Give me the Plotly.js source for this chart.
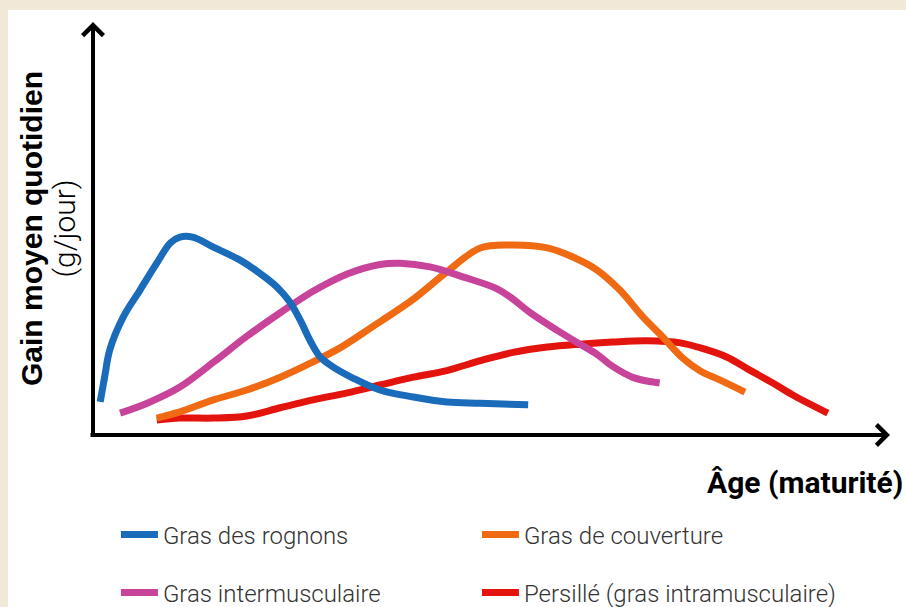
<!DOCTYPE html>
<html>
<head>
<meta charset="utf-8">
<script src="https://cdn.plot.ly/plotly-3.0.1.min.js"></script>
<style>
  html, body { margin: 0; padding: 0; background: #f1e8d7; width: 906px; height: 607px; overflow: hidden; }
  #chart { position: absolute; left: 8px; top: 10px; width: 898px; height: 597px; background: #ffffff; }
</style>
</head>
<body>
<div id="chart"></div>
<script>
// Series names
const seriesNames = ["Gras des rognons", "Gras de couverture", "Gras intermusculaire", "Persillé (gras intramusculaire)"];

// Gras des rognons (blue)
const rognonsX = [0.9, 1.5, 2.1, 3.8, 5.9, 8.0, 9.7, 10.9, 12.5, 15.1, 18.4, 20.9, 23.1, 24.7, 26.0, 27.2, 28.5, 30.1, 32.6, 36.0, 40.2, 44.4, 48.6, 54.6];
const rognonsY = [8.0, 14.5, 20.6, 28.6, 35.1, 41.6, 46.5, 47.9, 47.9, 45.5, 42.4, 39.2, 35.8, 32.2, 27.8, 23.0, 18.9, 16.5, 13.8, 10.9, 9.2, 8.0, 7.7, 7.3];

// Gras intermusculaire (magenta)
const interX = [3.4, 6.8, 10.9, 15.1, 19.3, 23.5, 27.6, 31.9, 36.0, 38.5, 42.3, 46.4, 50.7, 52.7, 54.8, 58.2, 61.1, 63.2, 65.2, 67.8, 71.1];
const interY = [5.3, 7.7, 11.6, 17.6, 23.9, 29.6, 34.8, 39.0, 41.3, 41.6, 40.7, 38.3, 35.4, 32.9, 29.7, 25.4, 22.0, 19.6, 16.6, 13.9, 12.6];

// Gras de couverture (orange)
const couvX = [8.0, 10.9, 15.1, 19.3, 23.5, 27.6, 31.0, 33.9, 36.0, 40.2, 44.4, 48.6, 52.7, 57.0, 60.2, 63.2, 66.1, 69.0, 71.5, 74.0, 76.2, 78.7, 81.8];
const couvY = [4.1, 5.6, 8.5, 10.9, 14.0, 17.7, 21.1, 24.7, 27.4, 32.9, 39.5, 45.3, 46.0, 45.3, 43.1, 40.0, 35.1, 28.6, 23.7, 18.6, 15.5, 13.3, 10.4];

// Persillé (red)
const persX = [8.0, 10.9, 15.1, 19.3, 23.5, 27.6, 31.9, 36.0, 40.2, 44.4, 48.6, 52.7, 57.0, 61.1, 65.2, 69.5, 73.7, 76.2, 79.5, 82.4, 85.3, 87.8, 92.2];
const persY = [3.6, 4.1, 4.1, 4.6, 6.6, 8.5, 10.2, 12.1, 14.0, 15.6, 18.0, 20.0, 21.3, 22.0, 22.5, 22.8, 22.3, 21.1, 18.9, 15.7, 12.6, 9.7, 5.3];

const colors = { rognons: "#1b6bbb", couv: "#ef6a12", inter: "#c8449a", pers: "#e3140e" };

function line(x, y, name, color, legend) {
  return {
    x: x, y: y, name: name, type: "scatter", mode: "lines",
    line: { color: color, width: 7, shape: "spline", smoothing: 1 },
    legend: legend, hoverinfo: "skip"
  };
}

const data = [
  line(persX, persY, seriesNames[3], colors.pers, "legend2"),
  line(couvX, couvY, seriesNames[1], colors.couv, "legend"),
  line(interX, interY, seriesNames[2], colors.inter, "legend2"),
  line(rognonsX, rognonsY, seriesNames[0], colors.rognons, "legend")
];

const legendFont = { family: "Roboto, sans-serif", size: 24, color: "#333333", weight: 300 };

const layout = {
  width: 898, height: 597,
  paper_bgcolor: "rgba(0,0,0,0)", plot_bgcolor: "rgba(0,0,0,0)",
  margin: { l: 85, r: 16, t: 12, b: 172, autoexpand: false },
  showlegend: true,
  xaxis: { range: [0, 100], showgrid: false, zeroline: false, showticklabels: false, ticks: "", showline: false, fixedrange: true },
  yaxis: {
    range: [0, 100], showgrid: false, zeroline: false, showticklabels: false, ticks: "", showline: false, fixedrange: true,
    automargin: false,
    title: {
      text: "<span style='font-family:\"Liberation Sans\",Arial,sans-serif;font-weight:bold;font-size:30px'>Gain moyen quotidien</span><br><span style='font-family:Roboto,sans-serif;font-weight:300;font-size:30px'>(g/jour)</span>",
      font: { family: "Liberation Sans, Arial, sans-serif", size: 25, color: "#000000" },
      standoff: 9
    }
  },
  legend: {
    orientation: "h", x: 0.0288, xanchor: "left", y: -0.2421, yanchor: "middle",
    font: legendFont, entrywidth: 309, entrywidthmode: "pixels", itemwidth: 37,
    traceorder: "reversed", bgcolor: "rgba(0,0,0,0)"
  },
  legend2: {
    orientation: "h", x: 0.0288, xanchor: "left", y: -0.3826, yanchor: "middle",
    font: legendFont, entrywidth: 309, entrywidthmode: "pixels", itemwidth: 37,
    traceorder: "reversed", bgcolor: "rgba(0,0,0,0)"
  },
  annotations: [
    { xref: "paper", yref: "paper", x: 1, y: 0, ax: -801, ay: 0, axref: "pixel", ayref: "pixel",
      text: "", showarrow: true, arrowhead: 4, arrowsize: 1, arrowwidth: 4, arrowcolor: "#000000", standoff: 0 },
    { xref: "paper", yref: "paper", x: 0, y: 1, ax: 0, ay: 415, axref: "pixel", ayref: "pixel",
      text: "", showarrow: true, arrowhead: 4, arrowsize: 1, arrowwidth: 4, arrowcolor: "#000000", standoff: 0 },
    { xref: "paper", yref: "paper", x: 1.0188, y: -0.114, xanchor: "right", yanchor: "middle",
      text: "<b>Âge (maturité)</b>", showarrow: false,
      font: { family: "Roboto, sans-serif", size: 30, color: "#000000" } }
  ]
};

Plotly.newPlot("chart", data, layout, { staticPlot: true, displayModeBar: false });
</script>
</body>
</html>
